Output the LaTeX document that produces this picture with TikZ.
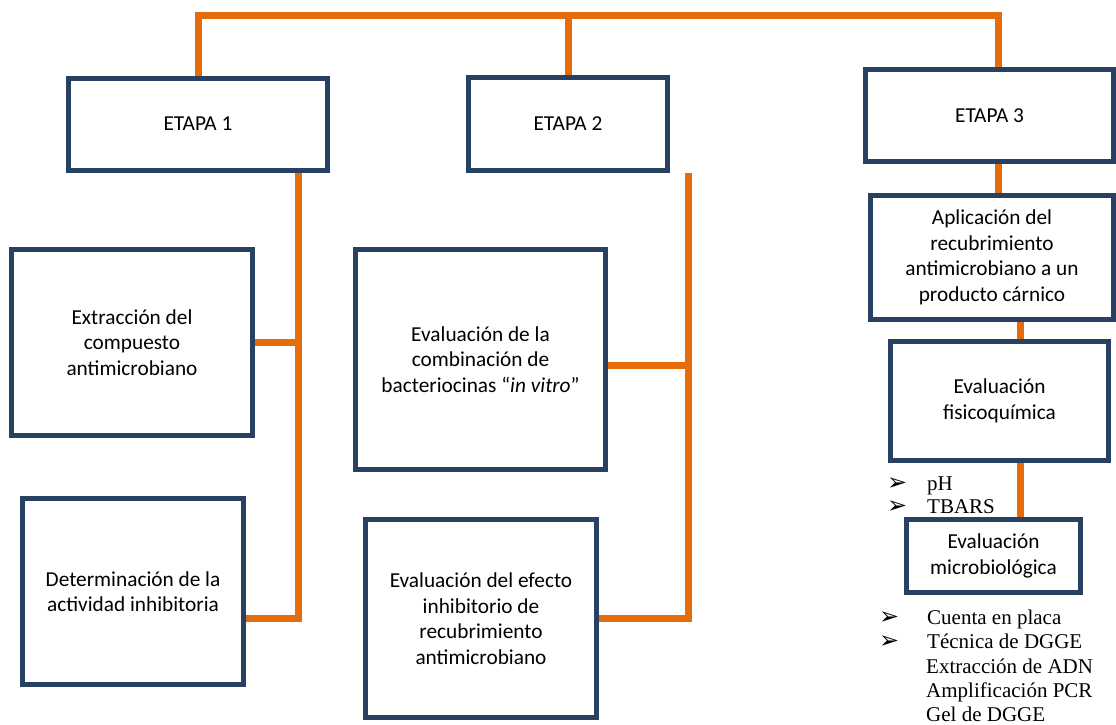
\documentclass[tikz,border=0pt]{standalone}
\usepackage{fontspec}
\setmainfont{Carlito}
\newfontfamily\serifitems{Liberation Serif}
\newfontfamily\arrowglyph{DejaVu Sans}
\usetikzlibrary{positioning}
\definecolor{boxnavy}{RGB}{40,65,99}
\definecolor{linkorange}{RGB}{228,108,10}

\begin{document}
\begin{tikzpicture}[
    x=1pt,
    y=-1pt,
    stage/.style={rectangle,draw=boxnavy,line width=5pt,inner sep=0pt,align=center,
      font=\fontsize{21.3}{25.5}\selectfont},
    link/.style={linkorange,line width=7pt},
    listitem/.style={anchor=base west,inner sep=0pt,font=\serifitems\fontsize{21}{24}\selectfont},
    bullettip/.style={anchor=base west,inner sep=0pt,font=\arrowglyph\fontsize{24}{24}\selectfont}
]
  \useasboundingbox (0,0) rectangle (1116,724);

  % the three stages
  \node[stage,minimum width=259pt,minimum height=92pt] (e1) at (198,124) {ETAPA 1};
  \node[stage,minimum width=199pt,minimum height=93pt] (e2) at (568,124) {ETAPA 2};
  \node[stage,minimum width=248pt,minimum height=92pt] (e3) at (989.5,115.5) {ETAPA 3};

  % stage 1
  \node[stage,minimum width=241pt,minimum height=186pt] (ext) at (132,342.5)
    {Extracción del\\compuesto\\antimicrobiano};
  \node[stage,minimum width=221pt,minimum height=186pt] (det) at (133,591.5)
    {Determinación de la\\actividad inhibitoria};

  % stage 2
  \node[stage,minimum width=250pt,minimum height=220pt] (com) at (480.5,359.5)
    {Evaluación de la\\combinación de\\bacteriocinas “\textit{in vitro}”};
  \node[stage,minimum width=231pt,minimum height=198pt] (efe) at (481,618.5)
    {Evaluación del efecto\\inhibitorio de\\recubrimiento\\antimicrobiano};

  % stage 3
  \node[stage,minimum width=243pt,minimum height=124pt] (apl) at (992,257.5)
    {Aplicación del\\recubrimiento\\antimicrobiano a un\\producto cárnico};
  \node[stage,minimum width=218pt,minimum height=119pt] (fis) at (999.5,401)
    {Evaluación\\fisicoquímica};
  \node[stage,minimum width=174pt,minimum height=73pt] (mic) at (993.5,556)
    {Evaluación\\microbiológica};

  % connectors
  \coordinate (s3) at (998,15.5);
  \coordinate (s4) at (1020,0);
  \coordinate (b1) at (298.5,618);
  \coordinate (b2) at (688.5,618);
  \coordinate (c2) at (688.5,365);

  \draw[link] (e1.north) |- (s3) -- (s3 |- e3.north);
  \draw[link] (e2.north) -- (e2.north |- s3);

  \draw[link] (b1 |- e1.south) -- (b1) -- (b1 -| det.east);
  \draw[link] (ext.east) -- (ext.east -| b1);

  \draw[link] (b2 |- e2.south) -- (b2) -- (b2 -| efe.east);
  \draw[link] (c2 -| com.east) -- (c2);

  \draw[link] (s3 |- e3.south) -- (s3 |- apl.north);
  \draw[link] (s4 |- apl.south) -- (s4 |- fis.north);
  \draw[link] (s4 |- fis.south) -- (s4 |- mic.north);

  % lists
  \foreach \txt [count=\i] in {pH,TBARS} {
    \node[bullettip] (phb\i) at (887,467+23*\i) {➢};
    \node[listitem] (ph\i) at (927,467+23*\i) {\txt};
  }
  \foreach \txt [count=\i] in {Cuenta en placa,Técnica de DGGE} {
    \node[bullettip] (mb\i) at (879,600+24*\i) {➢};
    \node[listitem] (mi\i) at (927,600+24*\i) {\txt};
  }
  \foreach \txt [count=\i] in {Extracción de ADN,Amplificación PCR,Gel de DGGE}
    \node[listitem] (ms\i) at (926,649+24*\i) {\txt};
\end{tikzpicture}
\end{document}
